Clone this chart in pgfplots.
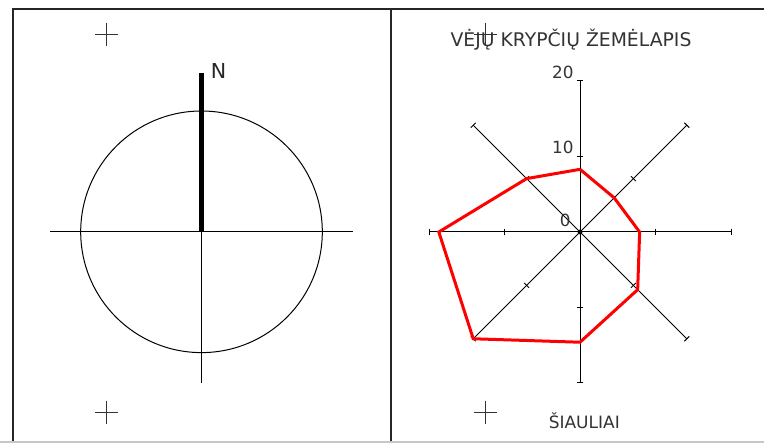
\documentclass[border=0pt]{standalone}
\usepackage{pgfplots}
\pgfplotsset{compat=1.18}
\usepgfplotslibrary{polar}
\usepackage{fontspec}
\setmainfont{DejaVu Sans}

\begin{document}
\begin{tikzpicture}
% sheet in pixel units (1 px = 0.5 pt), y downwards
\begin{axis}[
    width=382pt, height=221.5pt, scale only axis,
    xmin=0, xmax=764, ymin=0, ymax=443, y dir=reverse,
    hide axis, clip=false, unbounded coords=jump,
]
\coordinate (bl) at (rel axis cs:0,0);
\coordinate (tr) at (rel axis cs:1,1);
\coordinate (rc) at (axis cs:580,232);

% frame
\addplot[black!85, line width=1pt] coordinates {(12.7,443) (12.7,9.3) (764,9.3)};
\addplot[black!85, line width=1pt] coordinates {(390.7,9.3) (390.7,443)};
\addplot[black!22, line width=0.6pt] coordinates {(0,442) (764,442)};

% corner crosses
\addplot[black!80, line width=0.5pt] coordinates {
  (95.1,34.3) (118.3,34.3) (nan,nan) (106.7,22.7) (106.7,45.9) (nan,nan)
  (95.1,412.3) (118.3,412.3) (nan,nan) (106.7,400.7) (106.7,423.9) (nan,nan)
  (473.7,34.3) (496.9,34.3) (nan,nan) (485.3,22.7) (485.3,45.9) (nan,nan)
  (473.7,412.3) (496.9,412.3) (nan,nan) (485.3,400.7) (485.3,423.9)
};

% north sign
\draw[black, line width=0.5pt] (axis cs:201.5,231.8) circle[radius=60.4pt];
\addplot[black, line width=0.5pt] coordinates {(50,231.7) (352.7,231.7)};
\addplot[black, line width=0.5pt] coordinates {(201.5,231.7) (201.5,383.3)};
\addplot[black, line width=2.5pt] coordinates {(201.5,73.3) (201.5,231.7)};
\node[anchor=base, font=\fontsize{10.3}{12}\selectfont, text=black!85] at (axis cs:218.5,79) {N};

% texts of the wind rose
\node[anchor=base, font=\fontsize{9.4}{11}\selectfont, text=black!80] at (axis cs:571,46.7) {VĖJŲ KRYPČIŲ ŽEMĖLAPIS};
\node[anchor=base, font=\fontsize{8.5}{10}\selectfont, text=black!80] at (axis cs:584.3,428.3) {ŠIAULIAI};
\end{axis}

% wind rose, radius in %
\begin{axis}[
    at={(rc)}, anchor=center,
    width=151pt, height=151pt, scale only axis,
    xmin=-20, xmax=20, ymin=-20, ymax=20,
    hide axis, clip=false,
]
\pgfplotsinvokeforeach{0,45,...,315}{
  \draw[black, line width=0.5pt] (axis cs:0,0) -- (axis cs:{20*cos(#1)},{20*sin(#1)});
  \draw[black, line width=0.5pt]
    (axis cs:{10*cos(#1)-0.46*sin(#1)},{10*sin(#1)+0.46*cos(#1)}) --
    (axis cs:{10*cos(#1)+0.46*sin(#1)},{10*sin(#1)-0.46*cos(#1)});
  \draw[black, line width=0.5pt]
    (axis cs:{20*cos(#1)-0.46*sin(#1)},{20*sin(#1)+0.46*cos(#1)}) --
    (axis cs:{20*cos(#1)+0.46*sin(#1)},{20*sin(#1)-0.46*cos(#1)});
}
\node[anchor=east, inner sep=0pt, font=\fontsize{8.4}{10}\selectfont, text=black!80] at (axis cs:-0.8,21.1) {20};
\node[anchor=east, inner sep=0pt, font=\fontsize{8.4}{10}\selectfont, text=black!80] at (axis cs:-0.8,11.2) {10};
\node[anchor=east, inner sep=0pt, font=\fontsize{8.4}{10}\selectfont, text=black!80] at (axis cs:-1.2,1.5) {0};

% directions: angle (deg, E=0, N=90), frequency
\addplot[red, line width=1.5pt, data cs=polar] coordinates {
  (90,8.3) (45,6.4) (0,7.9) (-45,10.8) (-90,14.6) (-135,20) (-180,18.7) (-225,10.0) (-270,8.3)
};
\addplot[only marks, mark=*, mark size=1pt, black] coordinates {(0,0)};
\end{axis}

\pgfresetboundingbox
\path (bl) rectangle (tr);
\end{tikzpicture}
\end{document}
